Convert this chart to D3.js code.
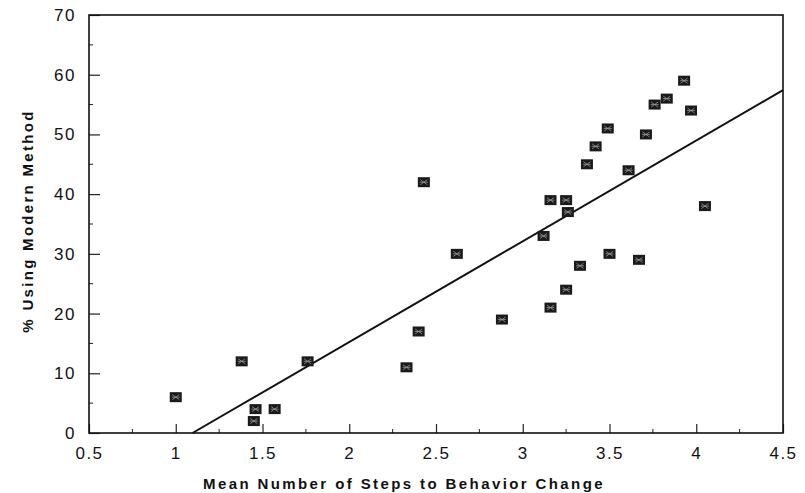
<!DOCTYPE html>
<html>
<head>
<meta charset="utf-8">
<script src="https://cdn.jsdelivr.net/npm/d3@7"></script>
<style>
  body { margin: 0; background: #fff; }
  text { font-family: "Liberation Sans", Arial, sans-serif; fill: #111; }
  .tick-label { font-size: 17px; letter-spacing: 1.5px; }
  .axis-title { font-size: 15px; font-weight: bold; }
</style>
</head>
<body>
<div id="chart"></div>
<script>
// steps to behavior change vs % using modern method
const stepsX = [1.00, 1.38, 1.46, 1.45, 1.57, 1.76, 2.33, 2.40, 2.43, 2.62, 2.88,
  3.12, 3.16, 3.25, 3.26, 3.16, 3.25, 3.33, 3.37, 3.42, 3.49, 3.50, 3.61,
  3.67, 3.71, 3.76, 3.83, 3.93, 3.97, 4.05];
const pctY = [6, 12, 4, 2, 4, 12, 11, 17, 42, 30, 19,
  33, 39, 39, 37, 21, 24, 28, 45, 48, 51, 30, 44,
  29, 50, 55, 56, 59, 54, 38];

// fitted line y = a + b*x
const fitIntercept = -18.5;
const fitSlope = 16.87;

const xTicks = [0.5, 1, 1.5, 2, 2.5, 3, 3.5, 4, 4.5];
const yTicks = [0, 10, 20, 30, 40, 50, 60, 70];

const W = 805, H = 493;
const margin = { top: 15, right: 22, bottom: 60, left: 89 };
const width = W - margin.left - margin.right;
const height = H - margin.top - margin.bottom;

const svg = d3.select('#chart').append('svg')
  .attr('width', W).attr('height', H);
const g = svg.append('g')
  .attr('transform', `translate(${margin.left},${margin.top})`);

const x = d3.scaleLinear().domain([0.5, 4.5]).range([0, width]);
const y = d3.scaleLinear().domain([0, 70]).range([height, 0]);

// minor ticks, pointing inwards
g.append('g').selectAll('line')
  .data(d3.range(0.75, 4.5, 0.5))
  .join('line')
  .attr('x1', d => x(d)).attr('x2', d => x(d))
  .attr('y1', height).attr('y2', height - 4)
  .attr('stroke', '#222').attr('stroke-width', 1);
g.append('g').selectAll('line')
  .data(d3.range(5, 70, 10))
  .join('line')
  .attr('x1', 0).attr('x2', 4)
  .attr('y1', d => y(d)).attr('y2', d => y(d))
  .attr('stroke', '#222').attr('stroke-width', 1);

// major ticks
const xAxis = g.append('g')
  .attr('transform', `translate(0,${height})`)
  .call(d3.axisBottom(x).tickValues(xTicks).tickSize(-9).tickPadding(14)
    .tickFormat(d3.format('')));
xAxis.select('.domain').remove();
xAxis.selectAll('line').attr('stroke', '#222').attr('stroke-width', 1.2);
xAxis.selectAll('text').attr('class', 'tick-label').attr('fill', '#111');

const yAxis = g.append('g')
  .call(d3.axisLeft(y).tickValues(yTicks).tickSize(-11).tickPadding(13));
yAxis.select('.domain').remove();
yAxis.selectAll('line').attr('stroke', '#222').attr('stroke-width', 1.2);
yAxis.selectAll('text').attr('class', 'tick-label').attr('fill', '#111');

// frame
g.append('rect')
  .attr('x', 0).attr('y', 0)
  .attr('width', width).attr('height', height)
  .attr('fill', 'none').attr('stroke', '#111').attr('stroke-width', 1.6);

// regression line
const x0 = -fitIntercept / fitSlope;
g.append('line')
  .attr('x1', x(x0)).attr('y1', y(0))
  .attr('x2', x(4.5)).attr('y2', y(fitIntercept + fitSlope * 4.5))
  .attr('stroke', '#111').attr('stroke-width', 2);

// markers
const pts = stepsX.map((d, i) => ({ sx: d, py: pctY[i] }));
const mk = g.append('g').selectAll('g')
  .data(pts)
  .join('g')
  .attr('transform', d => `translate(${x(d.sx)},${y(d.py)})`);
mk.append('rect')
  .attr('x', -6).attr('y', -5)
  .attr('width', 12).attr('height', 10)
  .attr('fill', '#1a1a1a');
mk.append('path')
  .attr('d', 'M-3.5,-2.5L3.5,2.5M-3.5,2.5L3.5,-2.5M-4,0H4')
  .attr('stroke', '#999').attr('stroke-width', 0.8).attr('fill', 'none');

// axis titles
svg.append('text')
  .attr('class', 'axis-title')
  .attr('x', 404).attr('y', 489)
  .attr('text-anchor', 'middle')
  .style('letter-spacing', '2.4px')
  .text('Mean Number of Steps to Behavior Change');

svg.append('text')
  .attr('class', 'axis-title')
  .attr('transform', 'translate(33,221) rotate(-90)')
  .attr('text-anchor', 'middle')
  .style('letter-spacing', '2.3px')
  .text('% Using Modern Method');
</script>
</body>
</html>
